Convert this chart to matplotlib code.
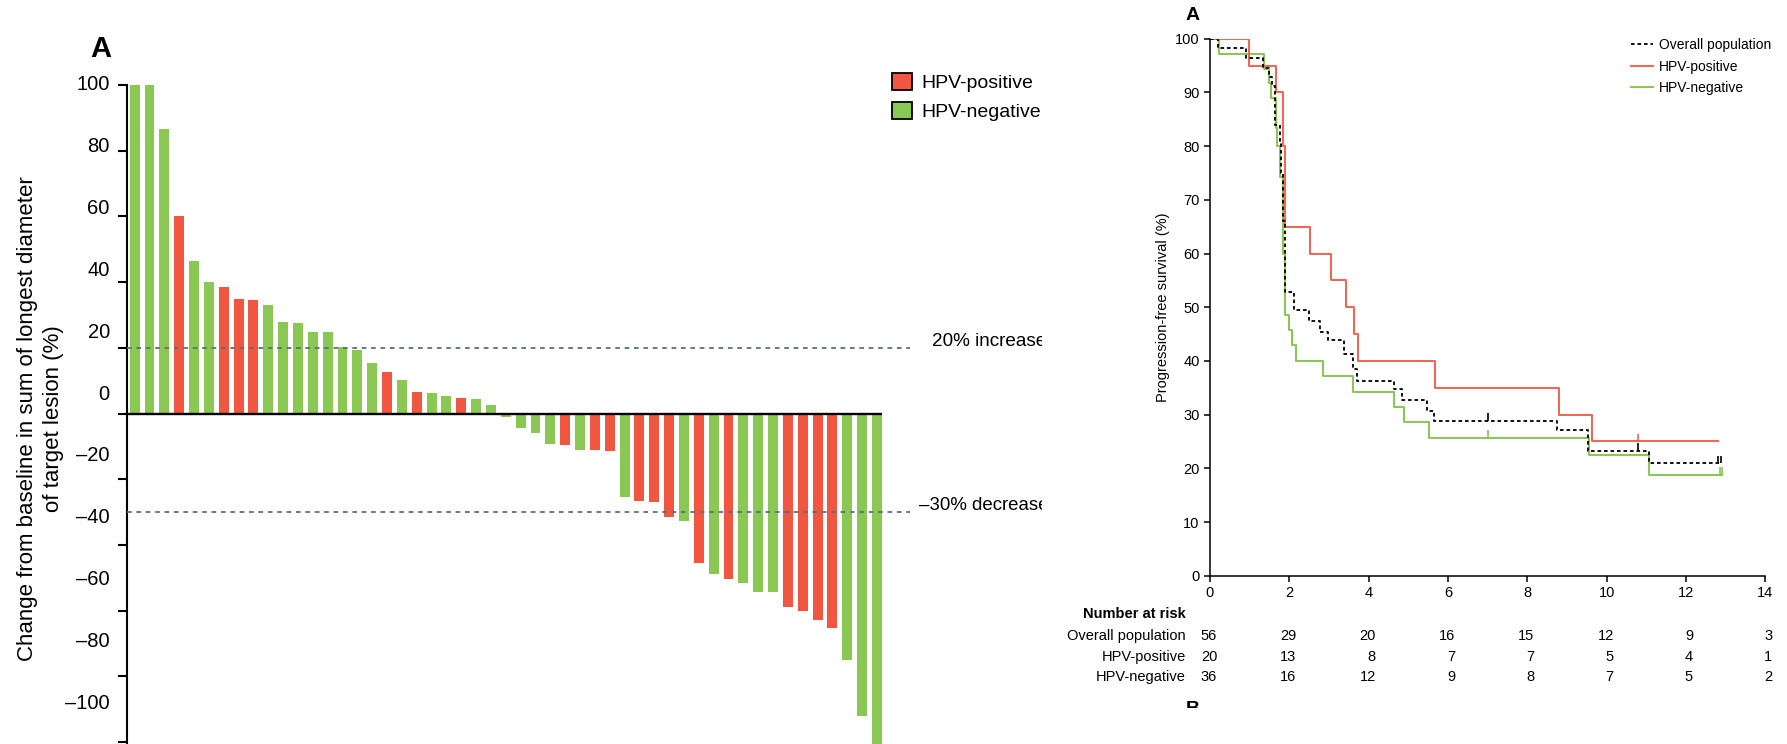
import matplotlib
matplotlib.use("Agg")
import numpy as np
import matplotlib.pyplot as plt
from matplotlib.patches import Patch
from matplotlib.lines import Line2D
from matplotlib.transforms import Bbox, TransformedBbox, blended_transform_factory

plt.rcParams['font.family'] = ['Liberation Sans', 'DejaVu Sans']

# ---------------- data: waterfall (panel A, left) ----------------
bar_values = [100, 100, 86.6, 60.1, 46.4, 40.0, 38.5, 34.8, 34.5, 33.0, 27.8, 27.5,
              24.8, 24.8, 20.2, 19.3, 15.3, 12.6, 10.2, 6.5, 6.2, 5.3, 4.7, 4.4, 2.5,
              -1.0, -4.4, -6.0, -9.3, -9.6, -11.1, -11.1, -11.4, -25.4, -26.6, -26.9,
              -31.4, -32.6, -45.4, -48.7, -50.5, -51.7, -54.4, -54.4, -59.0, -60.2,
              -62.9, -65.4, -75.1, -92.0, -110.0]
bar_groups = ['N', 'N', 'N', 'P', 'N', 'N', 'P', 'P', 'P', 'N', 'N', 'N',
              'N', 'N', 'N', 'N', 'N', 'P', 'N', 'P', 'N', 'N', 'P', 'N', 'N',
              'N', 'N', 'N', 'N', 'P', 'N', 'P', 'P', 'N', 'P', 'P',
              'P', 'N', 'P', 'N', 'P', 'N', 'N', 'N', 'P', 'P',
              'P', 'P', 'N', 'N', 'N']
ref_lines = [20, -30]
ref_labels = ['20% increase', '\u201330% decrease']
wf_yticks = [100, 80, 60, 40, 20, 0, -20, -40, -60, -80, -100]
wf_yticklabels = ['100', '80', '60', '40', '20', '0', '\u201320', '\u201340', '\u201360', '\u201380', '\u2013100']
group_names = {'P': 'HPV-positive', 'N': 'HPV-negative'}

# ---------------- data: Kaplan-Meier (right) ----------------
ov_t = [0, 0.19, 0.92, 1.34, 1.49, 1.56, 1.64, 1.77, 1.80, 1.84, 1.88, 1.90, 2.12, 2.50,
        2.78, 2.97, 3.39, 3.61, 3.70, 4.63, 4.85, 5.46, 5.66, 8.75, 9.52, 11.08, 12.92]
ov_s = [100, 98.2, 96.4, 94.6, 92.9, 91.1, 83.9, 80.4, 75.0, 66.0, 58.0, 52.8, 49.5, 47.4,
        45.4, 43.9, 41.3, 38.4, 36.3, 34.7, 32.7, 30.7, 28.9, 27.1, 23.3, 20.9, 20.9]
ov_cens = [7.0, 10.8, 12.8, 12.88]

pos_t = [0, 0.98, 1.67, 1.84, 1.88, 1.90, 2.52, 3.04, 3.44, 3.64, 3.73, 5.67, 8.80, 9.62, 12.81]
pos_s = [100, 95, 90, 80, 70, 65, 60, 55, 50, 45, 40, 35, 30, 25, 25]
pos_cens = [10.8]

neg_t = [0, 0.235, 1.36, 1.49, 1.54, 1.67, 1.70, 1.775, 1.83, 1.85, 1.88, 1.98, 2.08, 2.16,
         2.86, 3.61, 4.65, 4.90, 5.51, 9.55, 11.08, 12.9]
neg_s = [100, 97.2, 94.4, 91.7, 88.9, 83.3, 80.0, 74.3, 70.0, 60.0, 48.6, 45.7, 42.9, 40.0,
         37.1, 34.3, 31.4, 28.6, 25.7, 22.5, 18.8, 18.8]
neg_cens = [7.0, 12.85, 12.9]

risk_times = [0, 2, 4, 6, 8, 10, 12, 14]
risk_rows = ['Overall population', 'HPV-positive', 'HPV-negative']
risk_overall = [56, 29, 20, 16, 15, 12, 9, 3]
risk_pos = [20, 13, 8, 7, 7, 5, 4, 1]
risk_neg = [36, 16, 12, 9, 8, 7, 5, 2]

# ---------------- styling ----------------
RED = '#F05640'
GREEN = '#8AC753'
KM_RED = '#F26350'
KM_GREEN = '#86C74E'
DASH_COL = '#5B7080'
LFS = 14.5   # left panel text size
RFS = 10     # right panel text size

W, H = 1787, 744
fig = plt.figure(figsize=(W / 100, H / 100), dpi=100)

def fx(px):
    return px / W

def fy(py):
    return 1 - py / H

clip_left = TransformedBbox(Bbox([[0, 0], [fx(1042), 1]]), fig.transFigure)

# ================= Left: waterfall =================
spacing = 14.846
xlim1 = (-0.49, 50.34)
ylim1 = (-100.6, 100)
ax1_w = (xlim1[1] - xlim1[0]) * spacing
ax1 = fig.add_axes([fx(127.4), 0, ax1_w / W, 659 / H])
x = np.arange(len(bar_values))
colors = [RED if g == 'P' else GREEN for g in bar_groups]
ax1.bar(x, bar_values, width=0.67, color=colors, linewidth=0, zorder=2)
ax1.axhline(0, color='black', lw=1.7, zorder=3)
ax1.set_xlim(*xlim1)
ax1.set_ylim(*ylim1)
for s in ['top', 'right', 'bottom']:
    ax1.spines[s].set_visible(False)
ax1.spines['left'].set_linewidth(1.5)
ax1.set_xticks([])
ax1.set_yticks(wf_yticks)
ax1.set_yticklabels([])
ax1.tick_params(axis='y', direction='out', length=6.5, width=1.5)

# tick labels (slightly compressed spacing, as in the original)
lab_tr = blended_transform_factory(ax1.transAxes, ax1.transData)
for v, lab in zip(wf_yticks, wf_yticklabels):
    ax1.text(-17.6 / ax1_w, 100 - (100 - v) * 0.9406, lab, transform=lab_tr,
             ha='right', va='center', fontsize=LFS, clip_on=False)

fig.text(fx(40.5), fy(419),
         'Change from baseline in sum of longest diameter\nof target lesion (%)',
         rotation=90, ha='center', va='center', multialignment='center',
         fontsize=16, linespacing=1.3)

fig.text(fx(101), fy(49), 'A', ha='center', va='center', fontsize=21, fontweight='bold')

for yv, lab in zip(ref_lines, ref_labels):
    ax1.plot([xlim1[0], (910 - 134.7) / spacing], [yv, yv], color=DASH_COL, lw=1.3,
             dashes=(2.6, 2.6), clip_on=False, zorder=4)
tx1 = ax1.text((932.5 - 134.7) / spacing, ref_lines[0] + 1.9, ref_labels[0],
               ha='left', va='center', fontsize=13.6)
tx2 = ax1.text((919 - 134.7) / spacing, ref_lines[1] + 1.9, ref_labels[1],
               ha='left', va='center', fontsize=13.4)
for t in (tx1, tx2):
    t.set_clip_box(clip_left)
    t.set_clip_on(True)

handles = [Patch(facecolor=RED, edgecolor='black', linewidth=1.3, label=group_names['P']),
           Patch(facecolor=GREEN, edgecolor='black', linewidth=1.3, label=group_names['N'])]
leg1 = ax1.legend(handles=handles, loc='upper left', bbox_to_anchor=(fx(892), fy(73)),
                  bbox_transform=fig.transFigure, frameon=False, fontsize=14,
                  handlelength=1.05, handleheight=1.0, handletextpad=0.45,
                  labelspacing=0.5, borderpad=0, borderaxespad=0)
for t in leg1.get_texts():
    t.set_clip_box(clip_left)
    t.set_clip_on(True)

# ================= Right: Kaplan-Meier =================
ax2 = fig.add_axes([fx(1210), fy(575.7), 555.2 / W, 537 / H])
ax2.set_xlim(0, 14)
ax2.set_ylim(0, 100)
for s in ['top', 'right']:
    ax2.spines[s].set_visible(False)
for s in ['left', 'bottom']:
    ax2.spines[s].set_linewidth(1.1)
ax2.set_xticks(risk_times)
ax2.set_yticks(np.arange(0, 101, 10))
ax2.tick_params(direction='out', length=4.5, width=1.1, labelsize=RFS + 0.5, pad=3)

def surv_at(ts, ss, t):
    idx = np.searchsorted(ts, t, side='right') - 1
    return ss[idx]

ax2.step(neg_t, neg_s, where='post', color=KM_GREEN, lw=1.4, zorder=2)
ax2.step(pos_t, pos_s, where='post', color=KM_RED, lw=1.4, zorder=3)
ax2.step(ov_t, ov_s, where='post', color='black', lw=1.3, dashes=(2.0, 1.6), zorder=4)
for ts, ss, cens, col in [(neg_t, neg_s, neg_cens, KM_GREEN), (pos_t, pos_s, pos_cens, KM_RED),
                          (ov_t, ov_s, ov_cens, 'black')]:
    for c in cens:
        v = surv_at(ts, ss, c)
        ax2.vlines(c, v, v + 1.4, color=col, lw=1.2, zorder=5)

ax2.set_ylabel('Progression-free survival (%)', fontsize=RFS + 0.5)
ax2.yaxis.set_label_coords((1163 - 1210) / 555.2, 0.5)
ax2.yaxis.label.set_va('center')

fig.text(fx(1193), fy(15), 'A', ha='center', va='center', fontsize=14, fontweight='bold')

leg_handles = [Line2D([], [], color='black', lw=1.3, dashes=(2.0, 1.6), label='Overall population'),
               Line2D([], [], color=KM_RED, lw=1.4, label='HPV-positive'),
               Line2D([], [], color=KM_GREEN, lw=1.4, label='HPV-negative')]
ax2.legend(handles=leg_handles, loc='upper left', bbox_to_anchor=(fx(1631), fy(38)),
           bbox_transform=fig.transFigure, frameon=False, fontsize=RFS,
           handlelength=1.6, handletextpad=0.4, labelspacing=0.55,
           borderpad=0, borderaxespad=0)

# number at risk table
rtr = blended_transform_factory(ax2.transData, fig.transFigure)
fig.text(fx(1186), fy(614), 'Number at risk', ha='right', va='center', fontsize=RFS + 0.5,
         fontweight='bold')
row_y = [636, 656.7, 677.3]
for name, yy, counts in zip(risk_rows, row_y, [risk_overall, risk_pos, risk_neg]):
    fig.text(fx(1186), fy(yy), name, ha='right', va='center', fontsize=RFS + 0.5)
    for t, n in zip(risk_times, counts):
        ax2.text(t + 0.18, fy(yy), str(n), transform=rtr, ha='right', va='center',
                 fontsize=RFS + 0.5, clip_on=False)

tb = fig.text(fx(1193), fy(701.5), 'B', ha='center', va='top', fontsize=14, fontweight='bold')
tb.set_clip_box(TransformedBbox(Bbox([[0, fy(707.5)], [1, 1]]), fig.transFigure))
tb.set_clip_on(True)

fig.savefig('out.png', dpi=100)
